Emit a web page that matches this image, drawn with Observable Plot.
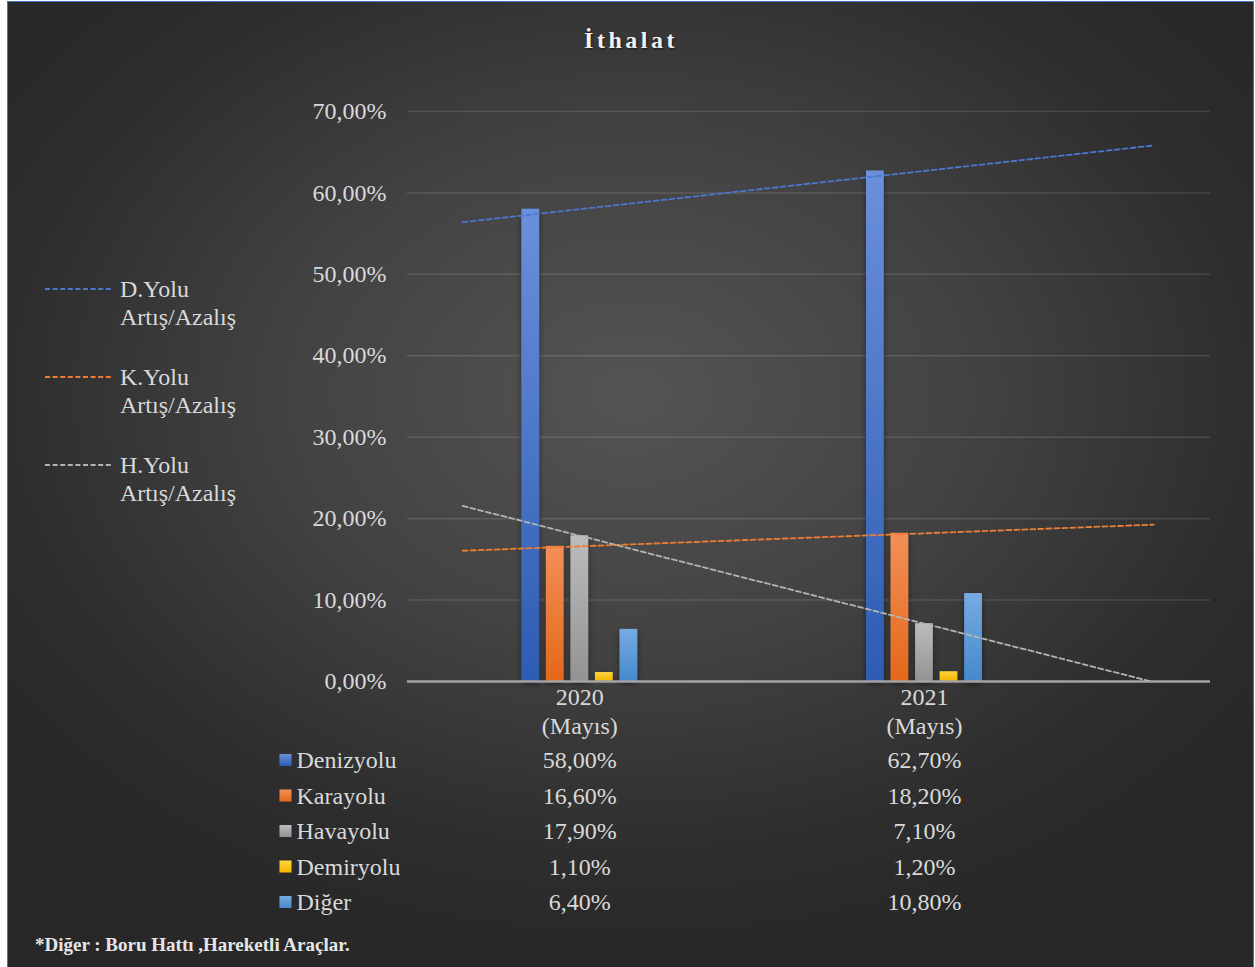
<!DOCTYPE html>
<html>
<head>
<meta charset="utf-8">
<script src="https://cdn.jsdelivr.net/npm/d3@7"></script>
<script src="https://cdn.jsdelivr.net/npm/@observablehq/plot@0.6"></script>
<style>
  html, body { margin: 0; padding: 0; background: #ffffff; }
  #page { position: relative; width: 1255px; height: 967px; overflow: hidden; }
  #frame {
    position: absolute; left: 7px; top: 1px; width: 1247px; height: 980px;
    box-sizing: border-box; border: 1.5px solid #4472c4;
    background: radial-gradient(ellipse 62% 58% at 50% 40%, #545454 0%, #424242 45%, #2e2e2e 80%, #282828 100%);
  }
  #chart { position: absolute; left: 0; top: 0; }
  .title {
    position: absolute; left: 0; width: 1262px; top: 27px; text-align: center;
    font-family: "Liberation Serif", serif; font-weight: bold; font-size: 24px;
    letter-spacing: 3.5px; color: #f2f2f2; text-shadow: 1px 1px 2px rgba(0,0,0,0.6);
  }
  .legend { position: absolute; left: 0; top: 0; font-family: "Liberation Serif", serif; font-size: 24px; color: #d9d9d9; }
  .legend .item { position: absolute; left: 45px; }
  .legend svg { position: absolute; left: 0; top: 12px; }
  .legend .lbl { position: absolute; left: 75px; top: 0; line-height: 28px; white-space: nowrap; }
  .foot {
    position: absolute; left: 35px; top: 934px; font-family: "Liberation Serif", serif;
    font-weight: bold; font-size: 19px; color: #e6e6e6; white-space: nowrap;
  }
</style>
</head>
<body>
<div id="page">
  <div id="frame"></div>
  <div id="chart"></div>
  <div class="title">İthalat</div>
  <div class="legend" id="legend"></div>
  <div class="foot">*Diğer : Boru Hattı ,Hareketli Araçlar.</div>
</div>
<script>
// ---- data ----
const categories = ["2020", "2021"];
const periodLabels = ["(Mayıs)", "(Mayıs)"];
const seriesNames = ["Denizyolu", "Karayolu", "Havayolu", "Demiryolu", "Diğer"];
const values2020 = [58.0, 16.6, 17.9, 1.1, 6.4];
const values2021 = [62.7, 18.2, 7.1, 1.2, 10.8];
const colorTop = ["#6b90db", "#f38f57", "#bcbcbc", "#ffd640", "#77abe2"];
const colorBottom = ["#2d5cb3", "#e3681b", "#939393", "#f4b400", "#4689cb"];
const trendSeriesIdx = [0, 1, 2];
const trendLabels = ["D.Yolu", "K.Yolu", "H.Yolu"];
const trendColors = ["#4a78cc", "#ed7d31", "#b4b4b4"];
const yTicks = [0, 10, 20, 30, 40, 50, 60, 70];

const valuesByCat = [values2020, values2021];
const fmt = v => v.toFixed(2).replace(".", ",") + "%";

// layout constants (style)
const barStep = 0.0712, barWidth = 0.0515;
const trendBack = 0.34, trendFwd = 1.665;
const rowGap = 35.5, rowStart = 79;

const marks = [];

// gradient defs
marks.push(() => {
  const defs = d3.create("svg:defs");
  seriesNames.forEach((s, k) => {
    const g = defs.append("linearGradient").attr("id", "g" + k)
      .attr("x1", 0).attr("y1", 0).attr("x2", 0).attr("y2", 1);
    g.append("stop").attr("offset", "0%").attr("stop-color", colorTop[k]);
    g.append("stop").attr("offset", "100%").attr("stop-color", colorBottom[k]);
  });
  const f = defs.append("filter").attr("id", "shadow").attr("x", "-40%").attr("y", "-5%").attr("width", "180%").attr("height", "115%");
  f.append("feDropShadow").attr("dx", 0).attr("dy", 3).attr("stdDeviation", 3).attr("flood-color", "#000").attr("flood-opacity", 0.45);
  return defs.node();
});

marks.push(Plot.gridY(yTicks, { stroke: "#ffffff", strokeOpacity: 0.12, strokeWidth: 1.5 }));

// bars
seriesNames.forEach((s, k) => {
  const data = categories.map((c, j) => ({ i: j + 1, v: valuesByCat[j][k] }));
  marks.push(Plot.rectY(data, {
    x1: d => d.i + (k - 2) * barStep - barWidth / 2,
    x2: d => d.i + (k - 2) * barStep + barWidth / 2,
    y: "v",
    fill: `url(#g${k})`
  }));
});

marks.push(Plot.ruleY([0], { stroke: "#a3a3a3", strokeWidth: 2.5 }));

// trend lines (linear through the two yearly values, extended)
trendSeriesIdx.forEach((k, t) => {
  const v1 = values2020[k], v2 = values2021[k];
  const pts = [1 - trendBack, 1 + trendFwd].map(i => ({ i, v: v1 + (i - 1) * (v2 - v1) }));
  marks.push(Plot.line(pts, { x: "i", y: "v", stroke: trendColors[t], strokeWidth: 1.8, strokeDasharray: "5,3", clip: true }));
});

// x category labels
marks.push(Plot.text(categories.map((c, j) => ({ i: j + 1, t: c + "\n" + periodLabels[j] })), {
  x: "i", y: () => 0, text: "t", lineAnchor: "top", dy: 4, lineHeight: 1.17, fontSize: 24, fill: "#d9d9d9"
}));

// data table
seriesNames.forEach((s, r) => {
  const dy = rowStart + r * rowGap;
  marks.push(Plot.text(categories.map((c, j) => ({ i: j + 1, t: fmt(valuesByCat[j][r]) })), {
    x: "i", y: () => 0, text: "t", dy, fontSize: 24, fill: "#d9d9d9"
  }));
  marks.push(Plot.text([s], {
    frameAnchor: "left", y: () => 0, text: d => d, dx: -111, dy, textAnchor: "start", fontSize: 24, fill: "#d9d9d9"
  }));
  marks.push(Plot.dot([s], {
    frameAnchor: "left", y: () => 0, dx: -122, dy: dy - 0.5, symbol: "square", r: 6.8, fill: `url(#g${r})`
  }));
});

marks.push(Plot.axisY(yTicks, {
  tickSize: 0, tickPadding: 21, tickFormat: fmt, fontSize: 24, fill: "#d9d9d9", label: null
}));

const chart = Plot.plot({
  width: 1255,
  height: 967,
  marginLeft: 407,
  marginRight: 45,
  marginTop: 111,
  marginBottom: 286,
  x: { type: "linear", domain: [0.5, 2.83], axis: null },
  y: { domain: [0, 70], axis: null },
  style: { background: "transparent", color: "#d9d9d9", fontFamily: "Liberation Serif, serif", fontSize: "24px", overflow: "visible" },
  marks
});
d3.select(chart).selectAll("g[aria-label='rect'] rect").attr("filter", "url(#shadow)");
document.getElementById("chart").appendChild(chart);

// trend legend (left)
const legend = d3.select("#legend");
const legendTops = [275, 363, 451];
trendLabels.forEach((lab, t) => {
  const item = legend.append("div").attr("class", "item").style("top", legendTops[t] + "px");
  const svg = item.append("svg").attr("width", 70).attr("height", 4);
  svg.append("line").attr("x1", 0).attr("x2", 67).attr("y1", 2).attr("y2", 2)
    .attr("stroke", trendColors[t]).attr("stroke-width", 1.8).attr("stroke-dasharray", "5,2.6");
  item.append("div").attr("class", "lbl").html(lab + "<br>Artış/Azalış");
});
</script>
</body>
</html>
